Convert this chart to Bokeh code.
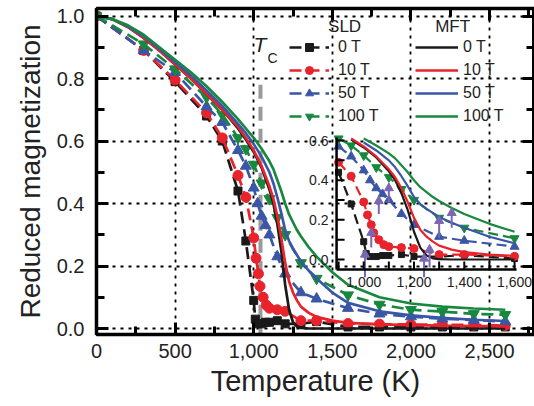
from bokeh.plotting import figure
from bokeh.models import (FixedTicker, NumeralTickFormatter, LinearAxis, CustomJSTickFormatter,
                          Legend, LegendItem, Label, Range1d)
from bokeh.core.properties import value
from bokeh.embed import file_html
from bokeh.resources import INLINE

FONT = "Liberation Sans"

# ---------------- data ----------------
# SLD (spin-lattice dynamics) simulations, markers + dashed lines
T_sld_0 = [0, 300, 500, 700, 800, 900, 950, 1000, 1010, 1025, 1050, 1075, 1100, 1150, 1200,
           1300, 1400, 1600, 1800, 2000, 2200, 2400, 2600]
m_sld_0 = [1.0, 0.89, 0.79, 0.68, 0.60, 0.44, 0.28, 0.09, 0.03, 0.015, 0.015, 0.02, 0.02, 0.025, 0.015,
           0.015, 0.022, 0.005, 0.005, 0.005, 0.005, 0.005, 0.005]

T_sld_10 = [0, 300, 500, 700, 800, 900, 950, 1000, 1015, 1030, 1040, 1060, 1080, 1100, 1150, 1200,
            1300, 1400, 1600, 1800, 2000, 2200, 2400, 2600]
m_sld_10 = [1.0, 0.89, 0.795, 0.69, 0.61, 0.49, 0.42, 0.29, 0.225, 0.175, 0.135, 0.10, 0.075, 0.065, 0.06, 0.055,
            0.025, 0.025, 0.016, 0.014, 0.013, 0.012, 0.011, 0.010]

T_sld_50 = [0, 300, 500, 700, 800, 900, 950, 1000, 1025, 1050, 1075, 1100, 1150, 1200,
            1300, 1400, 1600, 1800, 2000, 2200, 2400, 2600]
m_sld_50 = [1.0, 0.89, 0.82, 0.71, 0.66, 0.57, 0.52, 0.45, 0.40, 0.36, 0.33, 0.30, 0.23, 0.175,
            0.115, 0.095, 0.065, 0.047, 0.038, 0.031, 0.027, 0.022]

T_sld_100 = [0, 300, 500, 700, 800, 900, 950, 1000, 1050, 1100, 1150, 1200,
             1300, 1400, 1600, 1800, 2000, 2200, 2400, 2600]
m_sld_100 = [1.0, 0.91, 0.83, 0.74, 0.685, 0.61, 0.575, 0.525, 0.465, 0.415, 0.355, 0.30,
             0.21, 0.16, 0.107, 0.077, 0.06, 0.054, 0.047, 0.044]

# MFT (mean-field theory) curves, solid lines
T_mft = [0, 100, 200, 300, 400, 500, 600, 700, 800, 900, 950, 1000, 1050, 1100, 1125, 1150, 1175,
         1200, 1225, 1250, 1275, 1300, 1350, 1400, 1500, 1600, 1800, 2000, 2200, 2400, 2600]
m_mft_0 = [1.0, 0.99, 0.965, 0.93, 0.89, 0.845, 0.80, 0.75, 0.70, 0.64, 0.605, 0.565, 0.515, 0.445, 0.40,
           0.335, 0.25, 0.14, 0.06, 0.02, 0.006, 0.002, 0, 0, 0, 0, 0, 0, 0, 0, 0]
m_mft_10 = [1.0, 0.99, 0.965, 0.93, 0.89, 0.845, 0.80, 0.75, 0.70, 0.645, 0.61, 0.57, 0.52, 0.455, 0.415,
            0.36, 0.29, 0.21, 0.15, 0.115, 0.09, 0.07, 0.05, 0.037, 0.025, 0.018, 0.013, 0.011, 0.009, 0.008, 0.007]
m_mft_50 = [1.0, 0.99, 0.967, 0.935, 0.895, 0.852, 0.81, 0.762, 0.712, 0.655, 0.625, 0.59, 0.55, 0.50, 0.465,
            0.42, 0.37, 0.315, 0.28, 0.255, 0.235, 0.215, 0.185, 0.16, 0.115, 0.082, 0.055, 0.042, 0.034, 0.028, 0.024]
m_mft_100 = [1.0, 0.99, 0.97, 0.94, 0.90, 0.86, 0.82, 0.775, 0.725, 0.67, 0.64, 0.61, 0.575, 0.535, 0.51,
             0.475, 0.44, 0.40, 0.365, 0.34, 0.315, 0.295, 0.26, 0.23, 0.18, 0.14, 0.10, 0.08, 0.07, 0.064, 0.06]

field_labels = ["0 T", "10 T", "50 T", "100 T"]
colors = ["#1a1a1a", "#e8232b", "#3a56a6", "#17883d"]
markers = ["square", "circle", "triangle", "inverted_triangle"]
marker_sizes = [8, 10, 11, 11]
inset_sizes = [6, 8, 9, 9]

# Curie temperature marker
TC = 1043
TC_TOP = 0.78

# Arrows in the inset
arrow_T = [1005, 1030, 1060, 1100, 1240, 1262, 1300, 1350]
arrow_base = [-0.09, 0.06, 0.23, 0.29, -0.09, -0.04, 0.11, 0.16]
arrow_tip = [0.025, 0.135, 0.295, 0.36, 0.005, 0.05, 0.195, 0.235]

x_major = [0, 500, 1000, 1500, 2000, 2500]
x_minor = [250, 750, 1250, 1750, 2250, 2750]
y_major = [0.0, 0.2, 0.4, 0.6, 0.8, 1.0]
y_minor = [0.1, 0.3, 0.5, 0.7, 0.9]

# inset window (its own data ranges) and its ticks
INSET_T = (892, 1608)
INSET_M = (-0.05, 0.615)
ix_major = [1000, 1200, 1400, 1600]
ix_minor = [900, 1100, 1300, 1500]
iy_major = [0.0, 0.2, 0.4, 0.6]
iy_minor = [0.1, 0.3, 0.5]
ix_labels = ["1,000", "1,200", "1,400", "1,600"]
iy_labels = ["0.0", "0.2", "0.4", "0.6"]

sld_T = [T_sld_0, T_sld_10, T_sld_50, T_sld_100]
sld_m = [m_sld_0, m_sld_10, m_sld_50, m_sld_100]
mft_m = [m_mft_0, m_mft_10, m_mft_50, m_mft_100]

# ---------------- main figure ----------------
p = figure(width=534, height=406, x_range=Range1d(0, 2786), y_range=Range1d(-0.0192, 1.024),
           output_backend="svg", toolbar_location=None,
           min_border_left=96, min_border_right=0, min_border_top=8, min_border_bottom=72)
p.outline_line_color = "black"
p.outline_line_width = 3
p.background_fill_color = "white"
p.border_fill_color = "white"


def style_axis(ax, ticks, minor, fmt, font="20px", standoff=12):
    ax.ticker = FixedTicker(ticks=ticks, minor_ticks=minor)
    ax.formatter = fmt
    ax.axis_line_width = 3.5
    ax.axis_line_color = "black"
    ax.major_tick_in = 12
    ax.major_tick_out = 0
    ax.minor_tick_in = 8
    ax.minor_tick_out = 0
    ax.major_tick_line_width = 3
    ax.minor_tick_line_width = 3
    ax.major_tick_line_color = "black"
    ax.minor_tick_line_color = "black"
    ax.major_label_text_font = FONT
    ax.major_label_text_font_size = font
    ax.major_label_text_color = "#222222"
    ax.major_label_standoff = standoff


style_axis(p.xaxis[0], x_major, x_minor, NumeralTickFormatter(format="0,0"), standoff=9)
style_axis(p.yaxis[0], y_major, y_minor, NumeralTickFormatter(format="0.0"), standoff=12)
p.xaxis[0].axis_label = "Temperature (K)"
p.yaxis[0].axis_label = "Reduced magnetization"
for ax in (p.xaxis[0], p.yaxis[0]):
    ax.axis_label_text_font = FONT
    ax.axis_label_text_font_style = "normal"
    ax.axis_label_text_color = "#222222"
p.xaxis[0].axis_label_text_font_size = "29px"
p.yaxis[0].axis_label_text_font_size = "28px"
p.xaxis[0].axis_label_standoff = 4
p.yaxis[0].axis_label_standoff = 8

top_ax = LinearAxis()
style_axis(top_ax, x_major, x_minor, CustomJSTickFormatter(code="return ''"), font="0px", standoff=0)
right_ax = LinearAxis()
style_axis(right_ax, y_major, y_minor, CustomJSTickFormatter(code="return ''"), font="0px", standoff=0)
p.add_layout(top_ax, "above")
p.add_layout(right_ax, "right")

p.xgrid.ticker = FixedTicker(ticks=x_major)
p.ygrid.ticker = FixedTicker(ticks=y_major)
for g in (p.xgrid, p.ygrid):
    g.grid_line_color = "black"
    g.grid_line_dash = "3 5"
    g.grid_line_width = 1.8

# Tc marker
p.segment(x0=[TC], y0=[TC_TOP], x1=[TC], y1=[-0.02], line_color="#9a9a9a", line_width=4,
          line_dash="14 8")

sld_items = []
mft_items = []
for i in range(4):
    lr = p.line(sld_T[i], sld_m[i], line_color=colors[i], line_width=2.7, line_dash="12 6")
    sr = p.scatter(sld_T[i], sld_m[i], marker=markers[i], size=marker_sizes[i],
                   fill_color=colors[i], line_color=colors[i])
    sld_items.append(LegendItem(label=field_labels[i], renderers=[lr, sr]))
for i in range(4):
    mr = p.line(T_mft, mft_m[i], line_color=colors[i], line_width=2.7)
    mft_items.append(LegendItem(label=field_labels[i], renderers=[mr]))


def make_legend(items, loc, gw, standoff):
    return Legend(items=items, location=loc, border_line_color=None, background_fill_alpha=0,
                  padding=0, margin=0, spacing=3, glyph_width=gw, glyph_height=20,
                  label_height=20, label_standoff=standoff, label_text_font=FONT,
                  label_text_font_size="16px", label_text_color="#222222")


p.add_layout(make_legend(sld_items, (193, 208), 40, 9))
p.add_layout(make_legend(mft_items, (319, 208), 43, 5))

for txt, xx in (("SLD", 1578), ("MFT", 2265)):
    p.add_layout(Label(x=xx, y=0.965, text=txt, text_align="center", text_baseline="middle",
                       text_font=FONT, text_font_size="17px", text_color="#222222"))

p.add_layout(Label(x=999, y=0.945, text="T", text_baseline="top", text_font=FONT,
                   text_font_size="21px", text_font_style="italic", text_color="#222222"))
p.add_layout(Label(x=1088, y=0.892, text="C", text_baseline="top", text_font=FONT,
                   text_font_size="14px", text_color="#222222"))

# ---------------- inset (zoom of the transition region) ----------------
sub = p.subplot(x_source=Range1d(*INSET_T), y_source=Range1d(*INSET_M),
                x_target=Range1d(1527, 2672), y_target=Range1d(0.189, 0.611))


def in_window(Ts, ms):
    pts = [(t, m) for t, m in zip(Ts, ms)
           if INSET_T[0] <= t <= INSET_T[1] and INSET_M[0] <= m <= INSET_M[1]]
    return [a for a, _ in pts], [b for _, b in pts]


for i in range(4):
    tx, my = in_window(sld_T[i], sld_m[i])
    sub.line(tx, my, line_color=colors[i], line_width=2.2, line_dash="10 5")
    sub.scatter(tx, my, marker=markers[i], size=inset_sizes[i],
                fill_color=colors[i], line_color=colors[i])
for i in range(4):
    tx, my = in_window(T_mft, mft_m[i])
    sub.line(tx, my, line_color=colors[i], line_width=2.2)

purple = "#7b66b3"
sub.segment(x0=arrow_T, y0=arrow_base, x1=arrow_T, y1=arrow_tip, line_color=purple, line_width=2)
sub.scatter(arrow_T, arrow_tip, marker="triangle", size=9, fill_color=purple, line_color=purple)

# inset axes (left and bottom lines with inward ticks and labels)
x0i, x1i = INSET_T
y0i, y1i = INSET_M
sub.segment(x0=[x0i], y0=[y0i], x1=[x0i], y1=[y1i], line_color="black", line_width=2.5)
sub.segment(x0=[x0i], y0=[y0i], x1=[x1i], y1=[y0i], line_color="black", line_width=2.5)
xt = ix_major + ix_minor
yt = iy_major + iy_minor
tick_dy = (y1i - y0i) * 8 / 132
tick_dx = (x1i - x0i) * 8 / 180
sub.segment(x0=xt, y0=[y0i] * len(xt), x1=xt, y1=[y0i + tick_dy] * len(xt),
            line_color="black", line_width=2)
sub.segment(x0=[x0i] * len(yt), y0=yt, x1=[x0i + tick_dx] * len(yt), y1=yt,
            line_color="black", line_width=2)
sub.text(x=ix_major, y=[y0i] * len(ix_major), text=ix_labels, y_offset=8,
         text_align="center", text_baseline="top", text_font=value(FONT),
         text_font_size=value("14px"), text_color="#222222")
sub.text(x=[x0i] * len(iy_major), y=iy_major, text=iy_labels, x_offset=-8,
         text_align="right", text_baseline="middle", text_font=value(FONT),
         text_font_size=value("14px"), text_color="#222222")

open("out.html", "w").write(file_html(p, INLINE))
